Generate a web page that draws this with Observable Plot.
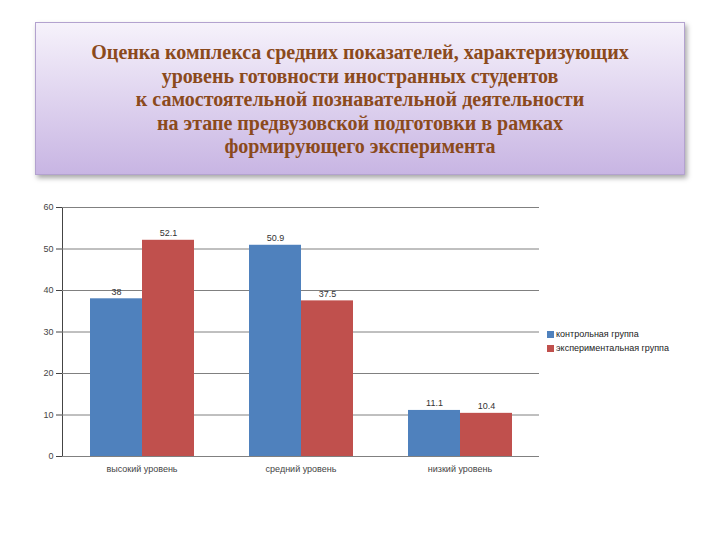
<!DOCTYPE html>
<html><head><meta charset="utf-8">
<script src="https://cdn.jsdelivr.net/npm/d3@7"></script>
<script src="https://cdn.jsdelivr.net/npm/@observablehq/plot@0.6"></script>
<style>
body{margin:0;width:720px;height:540px;background:#fff;position:relative;overflow:hidden;font-family:"Liberation Sans",Arial,sans-serif}
#title{position:absolute;left:35px;top:22px;width:650px;height:153px;box-sizing:border-box;border:1px solid #b3a2cf;background:linear-gradient(#f6f2fb,#c8b5e3);box-shadow:2px 3px 5px rgba(0,0,0,0.35);display:flex;align-items:center;justify-content:center;text-align:center;font-family:"Liberation Serif","Times New Roman",serif;font-weight:bold;font-size:20px;line-height:23.5px;color:#8b4a1c;padding-top:3px}
#chart{position:absolute;left:0;top:190px}
#legend{position:absolute;left:547px;top:327px;font-size:9px;color:#222;line-height:14px}
#legend .item{display:flex;align-items:center}
#legend .sw{width:7px;height:7px;margin-right:2px;display:inline-block}
</style>
</head><body>
<div id="title"></div>
<div id="chart"></div>
<div id="legend"></div>
<script>
const titleLines = [
  "Оценка комплекса средних показателей, характеризующих",
  "уровень готовности иностранных студентов",
  "к самостоятельной познавательной деятельности",
  "на этапе предвузовской подготовки в рамках",
  "формирующего эксперимента"
];
const categories = ["высокий уровень", "средний уровень", "низкий уровень"];
const groups = ["контрольная группа", "экспериментальная группа"];
const control = [38, 50.9, 11.1];
const experimental = [52.1, 37.5, 10.4];
const yTicks = [0, 10, 20, 30, 40, 50, 60];
const colors = ["#4f81bd", "#c0504d"];

document.getElementById("title").innerHTML = titleLines.join("<br>");

const rows = [];
categories.forEach((c, i) => {
  rows.push({category: c, group: groups[0], value: control[i]});
  rows.push({category: c, group: groups[1], value: experimental[i]});
});

const chart = Plot.plot({
  width: 720,
  height: 296,
  marginLeft: 61,
  marginRight: 180,
  marginTop: 17,
  marginBottom: 30,
  facet: {data: rows, x: "category"},
  fx: {domain: categories, padding: 0, axis: "bottom", label: null, tickSize: 0, tickPadding: 9},
  x: {domain: groups, axis: null, paddingInner: 0, paddingOuter: 0.51},
  y: {domain: [0, 60], ticks: yTicks, label: null, tickSize: 6, tickPadding: 3, line: true},
  color: {domain: groups, range: colors},
  style: {fontSize: "9px", fontFamily: "'Liberation Sans', Arial, sans-serif", color: "#444", background: "transparent"},
  marks: [
    Plot.ruleY(yTicks, {stroke: "#808080", strokeWidth: 1}),
    Plot.barY(rows, {x: "group", y: "value", fill: "group"}),
    Plot.text(rows, {x: "group", y: "value", text: d => String(d.value), dy: -7, fill: "#333", fontSize: 9})
  ]
});
document.getElementById("chart").appendChild(chart);

const legend = document.getElementById("legend");
groups.forEach((g, i) => {
  const item = document.createElement("div");
  item.className = "item";
  item.innerHTML = `<span class="sw" style="background:${colors[i]}"></span><span>${g}</span>`;
  legend.appendChild(item);
});
</script>
</body></html>
